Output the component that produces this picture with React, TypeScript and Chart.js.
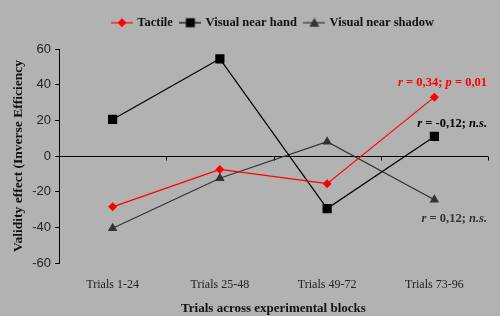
import React, { useEffect, useRef } from "react";
import { Chart, registerables } from "chart.js";

Chart.register(...registerables);

const categories = ["Trials 1-24", "Trials 25-48", "Trials 49-72", "Trials 73-96"];
const tactile = [-28.5, -7.5, -15.5, 33];
const visualNearHand = [20.5, 54.5, -29.5, 11];
const visualNearShadow = [-40.5, -12.5, 8, -24.5];
const yTicks = [60, 40, 20, 0, -20, -40, -60];
const seriesNames = ["Tactile", "Visual near hand", "Visual near shadow"];
const annotations = [
  { series: 0, color: "#ff0000", dy: -14, parts: [["r", true], [" = 0,34; ", false], ["p", true], [" = 0,01", false]] },
  { series: 1, color: "#000000", dy: -13, parts: [["r", true], [" = -0,12; ", false], ["n.s.", true]] },
  { series: 2, color: "#333333", dy: 19, parts: [["r", true], [" = 0,12; ", false], ["n.s.", true]] },
];

const BG = "#b2b2b2";
const SERIF = "'Liberation Serif', 'DejaVu Serif', serif";

function makeLegendIcon(color: string, shape: string): HTMLCanvasElement {
  const c = document.createElement("canvas");
  c.width = 22;
  c.height = 12;
  const ctx = c.getContext("2d")!;
  ctx.strokeStyle = color;
  ctx.lineWidth = 1.2;
  ctx.beginPath();
  ctx.moveTo(0, 6);
  ctx.lineTo(22, 6);
  ctx.stroke();
  ctx.fillStyle = color;
  ctx.beginPath();
  if (shape === "diamond") {
    ctx.moveTo(11, 1.5);
    ctx.lineTo(15.5, 6);
    ctx.lineTo(11, 10.5);
    ctx.lineTo(6.5, 6);
  } else if (shape === "square") {
    ctx.rect(6.5, 1.5, 9, 9);
  } else {
    ctx.moveTo(11, 1);
    ctx.lineTo(16, 10);
    ctx.lineTo(6, 10);
  }
  ctx.closePath();
  ctx.fill();
  return c;
}

export default function App() {
  const ref = useRef<HTMLCanvasElement>(null);
  useEffect(() => {
    const icons = [
      makeLegendIcon("#ff0000", "diamond"),
      makeLegendIcon("#000000", "square"),
      makeLegendIcon("#333333", "triangle"),
    ];
    const bgPlugin = {
      id: "bg",
      beforeDraw(chart: any) {
        const ctx = chart.ctx;
        ctx.save();
        ctx.fillStyle = BG;
        ctx.fillRect(0, 0, chart.width, chart.height);
        ctx.restore();
      },
    };
    const extrasPlugin = {
      id: "extras",
      afterDatasetsDraw(chart: any) {
        const ctx = chart.ctx;
        const x = chart.scales.x;
        const y = chart.scales.y;
        const y0 = y.getPixelForValue(0);
        ctx.save();
        ctx.strokeStyle = "#000";
        ctx.lineWidth = 1;
        ctx.beginPath();
        const n = categories.length;
        for (let i = 0; i <= n; i++) {
          const px = Math.round(x.left + ((x.right - x.left) * i) / n) + 0.5;
          ctx.moveTo(px, Math.round(y0) + 0.5);
          ctx.lineTo(px, Math.round(y0) + 4.5);
        }
        ctx.stroke();
        ctx.textBaseline = "middle";
        for (const a of annotations) {
          const meta = chart.getDatasetMeta(a.series);
          const pt = meta.data[meta.data.length - 1];
          const right = x.right - 1;
          const ty = pt.y + a.dy;
          const fonts = a.parts.map((p: any) => (p[1] ? "italic bold 12.5px " : "bold 12.5px ") + SERIF);
          let total = 0;
          a.parts.forEach((p: any, i: number) => {
            ctx.font = fonts[i];
            total += ctx.measureText(p[0]).width;
          });
          let cx = right - total;
          ctx.fillStyle = a.color;
          ctx.textAlign = "left";
          a.parts.forEach((p: any, i: number) => {
            ctx.font = fonts[i];
            ctx.fillText(p[0], cx, ty);
            cx += ctx.measureText(p[0]).width;
          });
        }
        ctx.restore();
      },
    };
    const chart = new Chart(ref.current!, {
      type: "line",
      data: {
        labels: categories,
        datasets: [
          {
            label: seriesNames[0],
            data: tactile,
            borderColor: "#ff0000",
            backgroundColor: "#ff0000",
            borderWidth: 1.2,
            pointStyle: "rectRot",
            pointRadius: 4.5,
            pointBorderWidth: 0,
          },
          {
            label: seriesNames[1],
            data: visualNearHand,
            borderColor: "#000000",
            backgroundColor: "#000000",
            borderWidth: 1.2,
            pointStyle: "rect",
            pointRadius: 6.5,
            pointBorderWidth: 0,
          },
          {
            label: seriesNames[2],
            data: visualNearShadow,
            borderColor: "#333333",
            backgroundColor: "#333333",
            borderWidth: 1.2,
            pointStyle: "triangle",
            pointRadius: 5.5,
            pointBorderWidth: 0,
          },
        ],
      },
      options: {
        animation: false,
        responsive: false,
        layout: { padding: { left: 0, right: 12, top: 8, bottom: 0 } },
        plugins: {
          tooltip: { enabled: false },
          title: {
            display: true,
            text: " ",
            weight: 0,
            font: { size: 10, lineHeight: 1 },
            padding: 0,
          },
          legend: {
            position: "top",
            fullSize: false,
            labels: {
              usePointStyle: true,
              pointStyleWidth: 18,
              boxWidth: 18,
              boxHeight: 12,
              padding: 8.5,
              color: "#111",
              font: { family: SERIF, size: 12.5, weight: "bold" },
              generateLabels: () =>
                seriesNames.map((name, i) => ({
                  text: name,
                  pointStyle: icons[i],
                  datasetIndex: i,
                  fillStyle: "transparent",
                  strokeStyle: "transparent",
                  lineWidth: 0,
                  fontColor: "#111",
                })),
            },
          },
        },
        scales: {
          x: {
            type: "category",
            offset: true,
            grid: { display: false },
            border: { display: false },
            ticks: { color: "#222", font: { family: SERIF, size: 12 }, padding: 7 },
            title: {
              display: true,
              text: "Trials across experimental blocks",
              color: "#111",
              font: { family: SERIF, size: 13, weight: "bold" },
              padding: { top: 4, bottom: 0 },
            },
            afterFit(scale: any) {
              scale.height = 53;
            },
          },
          y: {
            min: -60,
            max: 60,
            afterBuildTicks(scale: any) {
              scale.ticks = yTicks.map((v) => ({ value: v }));
            },
            grid: {
              drawOnChartArea: true,
              color: (ctx: any) => (ctx.tick && ctx.tick.value === 0 ? "#000" : "transparent"),
              tickColor: "#000",
              tickLength: 4,
              lineWidth: 1,
            },
            border: { display: true, color: "#000", width: 1 },
            ticks: {
              color: "#222",
              font: { family: "'Liberation Sans', Arial, sans-serif", size: 13 },
              padding: 4,
            },
            title: {
              display: true,
              text: "Validity effect (Inverse Efficiency",
              color: "#111",
              font: { family: SERIF, size: 13.5, weight: "bold" },
              padding: { top: 10, bottom: 0 },
            },
            afterFit(scale: any) {
              scale.width = 59;
            },
          },
        },
      } as any,
      plugins: [bgPlugin, extrasPlugin],
    });
    return () => chart.destroy();
  }, []);
  return (
    <div style={{ position: "fixed", left: 0, top: 0, width: 500, height: 316, background: BG }}>
      <canvas ref={ref} width={500} height={316} style={{ display: "block" }} />
    </div>
  );
}
